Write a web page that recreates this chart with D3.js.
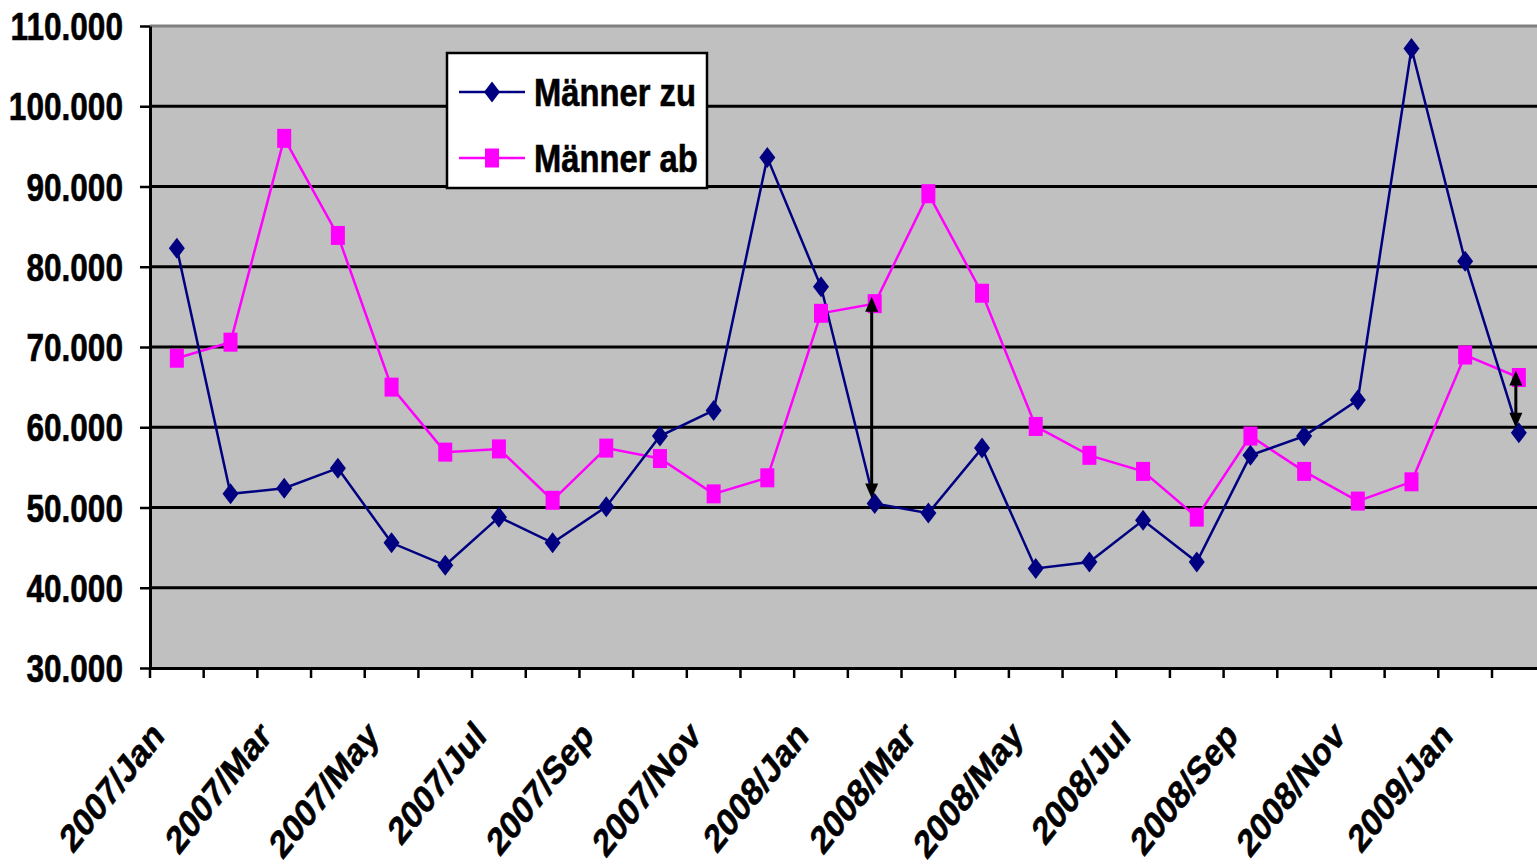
<!DOCTYPE html>
<html>
<head>
<meta charset="utf-8">
<script src="https://cdn.jsdelivr.net/npm/d3@7"></script>
<style>
  html, body { margin: 0; padding: 0; background: #fff; overflow: hidden; }
  svg { display: block; }
  text { font-family: "Liberation Sans", Arial, sans-serif; font-weight: bold; fill: #000; stroke: #000; stroke-width: 0.6px; }
</style>
</head>
<body>
<svg id="chart" width="1537" height="865"></svg>
<script>
const months = ["2007/Jan","2007/Feb","2007/Mar","2007/Apr","2007/May","2007/Jun","2007/Jul","2007/Aug","2007/Sep","2007/Oct","2007/Nov","2007/Dec",
                "2008/Jan","2008/Feb","2008/Mar","2008/Apr","2008/May","2008/Jun","2008/Jul","2008/Aug","2008/Sep","2008/Oct","2008/Nov","2008/Dec",
                "2009/Jan","2009/Feb"];
const maennerZu = [82300, 51700, 52400, 54900, 45600, 42800, 48800, 45600, 50100, 58900, 62100, 93600,
                   77500, 50500, 49300, 57400, 42400, 43200, 48400, 43200, 56500, 58900, 63400, 107200,
                   80700, 59300];
const maennerAb = [68600, 70600, 96000, 83900, 65000, 56900, 57300, 50900, 57400, 56100, 51700, 53700,
                   74200, 75400, 89100, 76700, 60100, 56500, 54500, 48800, 58900, 54500, 50800, 53200,
                   69000, 66200];
const yTicks = [30000, 40000, 50000, 60000, 70000, 80000, 90000, 100000, 110000];
const labeledMonths = months.filter((d, i) => i % 2 === 0);
const arrowMonths = ["2008/Feb", "2009/Feb"];
const seriesNames = ["Männer zu", "Männer ab"];

(function () {
const svg = d3.select("#chart");
const W = 1537, H = 865;
const pLeft = 150, pTop = 26, pBottom = 668;
const bandW = 53.68;
const pRight = pLeft + months.length * bandW;

const x = d3.scaleBand().domain(months).range([pLeft, pRight]).padding(0);
const y = d3.scaleLinear().domain([30000, 110000]).range([pBottom, pTop]);
const loc = d3.formatLocale({decimal: ",", thousands: ".", grouping: [3], currency: ["", "€"]});
const fmt = loc.format(",.0f");
const cx = m => x(m) + x.bandwidth() / 2;
const SX = 0.8;

svg.append("rect").attr("width", W).attr("height", H).attr("fill", "#fff");

// plot area
svg.append("rect").attr("x", pLeft).attr("y", pTop).attr("width", pRight - pLeft).attr("height", pBottom - pTop)
  .attr("fill", "#C0C0C0");
svg.append("line").attr("x1", pLeft).attr("x2", pRight).attr("y1", pTop).attr("y2", pTop)
  .attr("stroke", "#808080").attr("stroke-width", 3);

// gridlines
svg.append("g").selectAll("line").data(yTicks.filter(t => t > 30000 && t < 110000)).join("line")
  .attr("x1", pLeft).attr("x2", pRight).attr("y1", d => y(d)).attr("y2", d => y(d))
  .attr("stroke", "#000").attr("stroke-width", 3);

// y axis
const yAxis = svg.append("g").attr("transform", `translate(${pLeft},0)`)
  .call(d3.axisLeft(y).tickValues(yTicks).tickSize(10).tickSizeOuter(0).tickFormat(""));
yAxis.select(".domain").attr("stroke", "#000").attr("stroke-width", 3);
yAxis.selectAll(".tick line").attr("stroke", "#000").attr("stroke-width", 2.5);
svg.append("g").selectAll("text").data(yTicks).join("text")
  .attr("transform", d => `translate(123,${y(d)}) scale(0.81,1)`)
  .attr("text-anchor", "end").attr("dy", "0.36em").attr("font-size", 39)
  .text(d => fmt(d));

// x axis
const xAxis = svg.append("g").attr("transform", `translate(0,${pBottom})`)
  .call(d3.axisBottom(x).tickSize(0).tickSizeOuter(0).tickFormat(""));
xAxis.select(".domain").attr("stroke", "#000").attr("stroke-width", 3);
const boundaries = months.map(m => x(m)).concat([pRight]);
svg.append("g").selectAll("line").data(boundaries).join("line")
  .attr("x1", d => d).attr("x2", d => d).attr("y1", pBottom).attr("y2", pBottom + 10)
  .attr("stroke", "#000").attr("stroke-width", 2.5);
svg.append("g").selectAll("text").data(labeledMonths).join("text")
  .attr("transform", d => `translate(${cx(d) - 11},738) scale(${SX},1) rotate(-45)`)
  .attr("text-anchor", "end").attr("font-size", 39)
  .text(d => d);

// lines
const line = d3.line().x(d => cx(d.m)).y(d => y(d.v));
const zuData = months.map((m, i) => ({m, v: maennerZu[i]}));
const abData = months.map((m, i) => ({m, v: maennerAb[i]}));

svg.append("path").datum(abData).attr("d", line).attr("fill", "none")
  .attr("stroke", "#FF00FF").attr("stroke-width", 2.5);
svg.append("path").datum(zuData).attr("d", line).attr("fill", "none")
  .attr("stroke", "#000080").attr("stroke-width", 2.5);

const diamond = (px, py) => `M${px},${py - 10.5}L${px + 8},${py}L${px},${py + 10.5}L${px - 8},${py}Z`;
svg.append("g").selectAll("rect").data(abData).join("rect")
  .attr("x", d => cx(d.m) - 7).attr("y", d => y(d.v) - 9.5).attr("width", 14).attr("height", 19)
  .attr("fill", "#FF00FF");
svg.append("g").selectAll("path").data(zuData).join("path")
  .attr("d", d => diamond(cx(d.m), y(d.v))).attr("fill", "#000080");

// double arrows
const arrowG = svg.append("g");
arrowMonths.forEach(m => {
  const i = months.indexOf(m);
  const ax = cx(m) - 3;
  const yTop = y(maennerAb[i]) - 7;
  const yBot = y(maennerZu[i]) - 5;
  const hh = Math.min(15, (yBot - yTop) / 3.2), hw = 6.5;
  arrowG.append("line").attr("x1", ax).attr("x2", ax).attr("y1", yTop + hh - 1).attr("y2", yBot - hh + 1)
    .attr("stroke", "#000").attr("stroke-width", 3);
  arrowG.append("path").attr("d", `M${ax},${yTop}L${ax + hw},${yTop + hh}L${ax - hw},${yTop + hh}Z`).attr("fill", "#000");
  arrowG.append("path").attr("d", `M${ax},${yBot}L${ax + hw},${yBot - hh}L${ax - hw},${yBot - hh}Z`).attr("fill", "#000");
});

// legend
const lg = svg.append("g");
lg.append("rect").attr("x", 447).attr("y", 53).attr("width", 260).attr("height", 135)
  .attr("fill", "#fff").attr("stroke", "#000").attr("stroke-width", 2.5);
const legendItems = [
  {name: seriesNames[0], color: "#000080", ly: 92, shape: "diamond"},
  {name: seriesNames[1], color: "#FF00FF", ly: 158, shape: "square"}
];
legendItems.forEach(it => {
  lg.append("line").attr("x1", 459).attr("x2", 525).attr("y1", it.ly).attr("y2", it.ly)
    .attr("stroke", it.color).attr("stroke-width", 2.5);
  if (it.shape === "diamond") {
    lg.append("path").attr("d", diamond(492, it.ly)).attr("fill", it.color);
  } else {
    lg.append("rect").attr("x", 485).attr("y", it.ly - 9.5).attr("width", 14).attr("height", 19).attr("fill", it.color);
  }
  lg.append("text").attr("transform", `translate(534,${it.ly}) scale(0.84,1)`)
    .attr("dy", "0.36em").attr("font-size", 39).text(it.name);
});
})();
</script>
</body>
</html>
